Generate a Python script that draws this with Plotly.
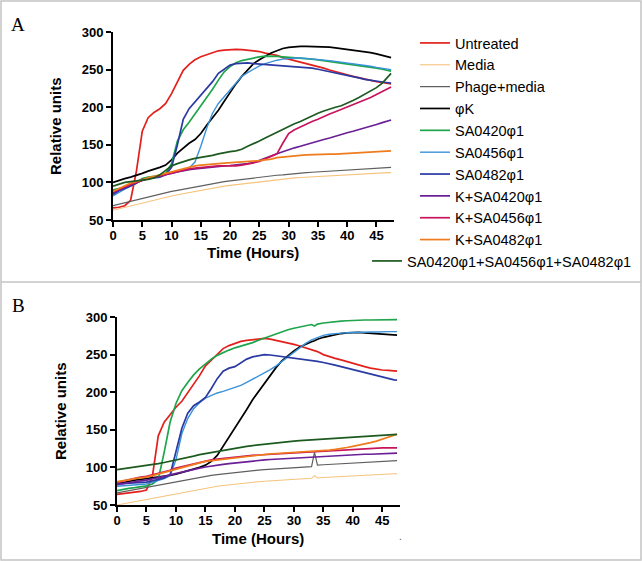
import plotly.graph_objects as go

# sampling times (hours)
HOURS_A = list(range(48)) + [47.5]
HOURS_B = list(range(34)) + [33.5] + list(range(34, 48)) + [47.5]

SERIES = ["Untreated", "Media", "Phage+media", "φK", "SA0420φ1", "SA0456φ1",
          "SA0482φ1", "K+SA0420φ1", "K+SA0456φ1", "K+SA0482φ1",
          "SA0420φ1+SA0456φ1+SA0482φ1"]
COLORS = ["#e3211c", "#f6c37e", "#5f5f5f", "#000000", "#1fa54b", "#3a92da",
          "#2a3aa3", "#6b1f96", "#c8145c", "#f07b1c", "#1c5a1f"]
WIDTHS = [1.7, 1.1, 1.2, 1.7, 1.7, 1.4, 1.7, 1.7, 1.7, 1.7, 1.7]

# panel A
UNTREATED_A = [66, 67, 69, 76, 115, 168, 186, 193, 198, 205, 218, 234, 249, 257, 263, 267, 270, 273, 275, 276,
               277, 277, 276.5, 276, 275, 274, 272, 271, 269, 266, 264, 262, 260, 258, 256.5, 255, 252, 249.5, 247, 245,
               243, 241, 239, 237, 235.5, 234, 233, 231.5, 231]
MEDIA_A = [63, 65, 67, 69, 71, 73, 75, 77, 79, 80.5, 82, 83.5, 85, 86.5, 88, 89.5, 91, 92.5, 94, 95,
           96, 97, 98, 99, 100, 101, 102, 103, 103.5, 104, 105, 106, 106.5, 107, 107.5, 108, 108.5, 109, 109.5, 110,
           110.5, 111, 111, 111.5, 112, 112, 112.5, 113, 113]
PHAGE_A = [69, 71, 73, 75, 77, 79, 81, 83, 85, 86.5, 88, 89.5, 91, 92.5, 94, 95.5, 97, 98.5, 100, 101,
           102, 103, 104, 105, 106, 107, 108, 109, 109.5, 110, 111, 112, 112.5, 113, 113.5, 114, 114.5, 115, 115.5, 116,
           116.5, 117, 117.5, 118, 118.5, 119, 119.5, 120, 120]
PHIK_A = [100, 103, 105, 107, 109, 112, 115, 117, 120, 123, 130, 139, 146, 152, 157, 165, 176, 186, 196, 208,
          220, 231, 241, 250, 258, 263, 268, 272, 275, 278, 279.5, 280.5, 281, 281, 281, 281, 280.5, 280, 279, 278,
          277, 276, 275, 274, 272.5, 271, 269, 267, 266]
SA0420_A = [90, 92, 93, 95, 100, 105, 107, 108, 109, 112, 125, 155, 170, 180, 191, 201, 212, 224, 236, 247,
            254, 259, 262, 264, 266, 267, 268, 268, 267.5, 267, 266.5, 266, 265, 264.5, 264, 263, 262, 261, 260, 259,
            258, 257, 256, 254.5, 253, 252, 250.5, 249, 248]
SA0456_A = [82, 87, 91, 95, 99, 103, 105, 107, 109, 111, 113, 116, 117, 119, 127, 148, 172, 192, 205, 214,
            222, 232, 241, 246, 251, 255, 258, 260.5, 262.5, 264, 265, 265.5, 265.5, 265, 264.5, 264, 263, 262, 261, 260,
            259, 258, 257, 255.5, 254.5, 253, 252, 251, 250]
SA0482_A = [84, 89, 92, 95, 99, 104, 105, 106, 107, 110, 120, 150, 184, 198, 207, 215, 224, 234, 245, 251,
            256, 258, 259, 259, 258, 257.5, 257, 256.5, 256, 255.5, 255, 254.5, 254, 253, 252, 250.5, 249, 247, 245.5, 244,
            242, 240.5, 239, 237, 235.5, 234.5, 233.5, 232.5, 232]
K420_A = [86, 90, 94, 97, 100, 103, 105, 107, 109, 111, 112, 114, 116, 117, 118, 119, 120, 121, 121.5, 122,
          122.5, 123, 124, 125, 126.5, 129, 132, 135, 138, 141, 144, 146, 148, 150, 152, 155, 157, 159, 161, 164,
          166, 168, 170, 172, 174, 177, 179.5, 182, 183]
K456_A = [88, 91, 95, 98, 100, 103, 105, 107, 109, 111, 112, 114, 116, 118, 119, 120, 121, 121, 122, 122,
          121.5, 122, 123, 124, 126, 128, 131, 134, 138, 152, 165, 170, 174, 177, 181, 184, 188, 191, 194, 197,
          200, 203, 206, 209, 213, 217, 221, 225, 227]
K482_A = [88, 92, 96, 99, 101, 104, 106, 108, 110, 112, 115, 117, 119, 121, 122, 123, 124, 124.5, 125, 125.5,
          126, 126.5, 127, 127.5, 128, 129, 130, 131, 133, 134, 135, 135.5, 136, 136.5, 137, 137.5, 137.5, 137.5, 137.5, 138,
          138, 138.5, 139, 139.5, 140, 141, 141.5, 142, 142]
COMBO_A = [95, 98, 100, 101, 102, 103, 104, 106, 110, 116, 122, 125, 128, 130, 132, 133, 134.5, 136, 138, 140,
           141, 142, 144, 148, 151, 155, 159, 163, 167, 171, 175, 178, 181, 185, 189, 192, 195, 198, 200, 202,
           205, 209, 213, 217, 221, 226, 232, 241, 245]

# panel B
UNTREATED_B = [64, 65, 66, 67, 68, 70, 88, 142, 160, 170, 180, 188, 199, 210, 222, 235, 243, 251, 258, 262,
               265, 267.5, 269, 270, 271, 271.5, 270.5, 269, 267.5, 265.5, 263.5, 261.5, 259, 257, 256,
               254, 250, 247, 245, 243, 240.5, 238, 236, 234, 232, 230.5, 229.5, 229, 228.5, 228]
MEDIA_B = [50, 51.5, 53, 54.5, 56, 57.5, 59, 60.5, 62, 63.5, 65, 66.5, 68, 69.5, 71, 72.5, 74, 75, 76, 77,
           78, 79, 80, 80.5, 81, 81.5, 82, 82.5, 83, 83.5, 84, 84.5, 85, 85.5, 89,
           86, 86.5, 87, 87.5, 88, 88.5, 89, 89.5, 90, 90, 90.5, 91, 91, 91.5, 91.5]
PHAGE_B = [66, 67.5, 69, 70.5, 72, 73.5, 75, 76.5, 78, 79.5, 81, 82.5, 84, 85.5, 87, 88.5, 89.5, 90.5, 91.5, 92.5,
           93.5, 94.5, 95.5, 96, 96.5, 97, 97.5, 98, 98.5, 99, 99.5, 100, 100.5, 101, 120,
           103, 103.5, 104, 104.5, 105, 105.5, 106, 106.5, 107, 107.5, 108, 108, 108.5, 109, 109]
PHIK_B = [78, 80, 82, 83, 84, 85, 86, 87, 88, 89.5, 91, 93, 95, 97, 100, 103, 108, 116, 128, 140,
          152, 165, 177, 190, 201, 212, 223, 233, 242, 249, 255, 260, 264, 267, 268.5,
          270.5, 273, 275, 276.5, 278, 279, 279.5, 279.5, 279, 278.5, 278, 277.5, 277, 276.5, 276]
SA0420_B = [69, 70, 72, 73, 74, 75.5, 78, 84, 120, 160, 185, 202, 213, 223, 231, 238, 244, 249, 253, 256,
            259, 261, 263, 266, 269, 272, 275, 278, 280.5, 283, 285, 287, 289, 290, 288,
            290.5, 292, 293, 294, 294.5, 295, 295.5, 295.5, 296, 296, 296, 296.5, 296.5, 296.5, 296.5]
SA0456_B = [75, 75.5, 76, 76.5, 77, 78, 80, 82, 85, 89, 110, 145, 165, 178, 186, 192, 196, 199, 201, 203.5,
            206, 209, 213, 217, 221, 225, 230, 235, 241, 247, 253, 259, 265, 269.5, 271,
            273, 275.5, 277, 278, 278.5, 279, 279.5, 280, 280, 280, 280, 280.5, 280.5, 280.5, 280.5]
SA0482_B = [78, 78.5, 79, 79.5, 80, 80.5, 82, 84, 86, 90, 120, 152, 172, 182, 187, 193, 205, 218, 228, 232,
            234, 239, 244, 247, 249, 250, 249.5, 248.5, 247.5, 246.5, 245.5, 244.5, 243.5, 242.5, 242,
            241, 239.5, 238, 236, 234, 232, 230, 228, 226, 224, 222, 220, 218, 216.5, 216]
K420_B = [77, 78.5, 80, 81, 82, 83, 84.5, 86, 88, 90, 92, 94, 96, 97.5, 99, 100.5, 102, 103, 104, 105,
          106, 107, 108, 108.5, 109, 110, 110.5, 111, 111.5, 112, 112.5, 113, 113.5, 114, 114,
          114, 114.5, 115, 115.5, 116, 116.5, 117, 117, 117.5, 117.5, 118, 118.5, 118.5, 119, 119]
K456_B = [80, 82, 84, 85.5, 87, 88, 90, 92, 94, 96, 99, 101, 103, 105, 107, 108.5, 110, 111, 112, 113,
          114, 115, 115.5, 116, 116.5, 117, 117.5, 118, 118.5, 119, 119.5, 120, 120.5, 121, 121,
          121.5, 122, 122.5, 123, 123.5, 124, 124.5, 125, 125, 125.5, 125.5, 126, 126, 126, 126]
K482_B = [81, 82, 83.5, 85, 86, 87, 89, 91, 93, 95, 98, 100, 102, 104, 106, 108, 109, 110, 111, 112,
          113, 114, 115, 116, 117, 117.5, 118, 118.5, 119, 119.5, 120, 120, 120.5, 121, 121,
          121.5, 122, 123, 124, 125, 126.5, 128, 129.5, 131, 133, 135, 137.5, 140, 142.5, 144]
COMBO_B = [97, 98, 99, 100, 101, 102, 103.5, 105, 106.5, 108, 110, 111.5, 113, 115, 117, 118.5, 120, 121.5, 123, 124.5,
           126, 127, 128, 129, 130, 131, 132, 132.5, 133, 134, 135, 135.5, 136, 137, 137,
           137.5, 138, 138.5, 139, 139.5, 140, 140.5, 141, 141.5, 142, 142.5, 143, 143.5, 144, 144]

PANEL_A = [UNTREATED_A, MEDIA_A, PHAGE_A, PHIK_A, SA0420_A, SA0456_A, SA0482_A, K420_A, K456_A, K482_A, COMBO_A]
PANEL_B = [UNTREATED_B, MEDIA_B, PHAGE_B, PHIK_B, SA0420_B, SA0456_B, SA0482_B, K420_B, K456_B, K482_B, COMBO_B]

W, H = 642, 561
SANS = "Arial, Liberation Sans, sans-serif"
SERIF = "Liberation Serif, Times New Roman, serif"

fig = go.Figure()
for i, name in enumerate(SERIES):
    fig.add_trace(go.Scatter(
        x=HOURS_A, y=PANEL_A[i], name=name, mode="lines",
        line=dict(color=COLORS[i], width=WIDTHS[i]),
        xaxis="x", yaxis="y",
        legend="legend2" if i == len(SERIES) - 1 else "legend",
    ))
for i, name in enumerate(SERIES):
    fig.add_trace(go.Scatter(
        x=HOURS_B, y=PANEL_B[i], name=name, mode="lines",
        line=dict(color=COLORS[i], width=WIDTHS[i]),
        xaxis="x2", yaxis="y2", showlegend=False,
    ))


def px_x(p):
    return p / W


def px_y(p):
    return (H - p) / H


def label(text, x, y, font, angle=0):
    return dict(text=text, x=px_x(x), y=px_y(y), xref="paper", yref="paper", showarrow=False,
                xanchor="center", yanchor="middle", textangle=angle, font=font)


axis_style = dict(
    showline=True, linecolor="black", linewidth=2, mirror=False,
    ticks="outside", ticklen=5, tickwidth=2, tickcolor="black",
    showgrid=False, zeroline=False, automargin=False,
    tickfont=dict(family=SANS, size=13, color="black", weight="bold"),
)
title_font = dict(family=SANS, size=15, color="black", weight="bold")
panel_font = dict(family=SERIF, size=19, color="black")

fig.update_layout(
    template="none",
    width=W, height=H,
    margin=dict(l=0, r=0, t=0, b=0),
    paper_bgcolor="white", plot_bgcolor="rgba(0,0,0,0)",
    xaxis=dict(axis_style, domain=[px_x(113), px_x(394)], range=[0, 48], tick0=0, dtick=5, anchor="y",
               ticklabelstandoff=-3),
    yaxis=dict(axis_style, domain=[px_y(220), px_y(32)], range=[50, 300], tick0=50, dtick=50, anchor="x"),
    xaxis2=dict(axis_style, domain=[px_x(117), px_x(400)], range=[0, 48], tick0=0, dtick=5, anchor="y2",
                ticklabelstandoff=-3),
    yaxis2=dict(axis_style, domain=[px_y(505), px_y(317)], range=[50, 300], tick0=50, dtick=50, anchor="x2"),
    legend=dict(x=px_x(415), y=px_y(27), xanchor="left", yanchor="top",
                font=dict(family=SANS, size=14.5, color="black"),
                bgcolor="rgba(0,0,0,0)", borderwidth=0, tracegroupgap=0),
    legend2=dict(x=px_x(367), y=px_y(245), xanchor="left", yanchor="top",
                 font=dict(family=SANS, size=14.5, color="black"),
                 bgcolor="rgba(0,0,0,0)", borderwidth=0),
    showlegend=True,
    shapes=[
        dict(type="rect", xref="paper", yref="paper", x0=px_x(1), x1=px_x(641), y0=px_y(560), y1=px_y(1),
             line=dict(color="#c4c4c4", width=1.5)),
        dict(type="line", xref="paper", yref="paper", x0=px_x(1), x1=px_x(641), y0=px_y(282), y1=px_y(282),
             line=dict(color="#c4c4c4", width=1.5)),
    ],
    annotations=[
        label("A", 18, 25, panel_font),
        label("B", 18, 305, panel_font),
        label("Time (Hours)", 253, 252, title_font),
        label("Relative units", 55, 126, title_font, -90),
        label("Time (Hours)", 258, 538, title_font),
        label("Relative units", 60, 411, title_font, -90),
        label(".", 400, 536, dict(family=SANS, size=10, color="#555")),
    ],
)

fig.write_html("out.html", post_script="document.body.style.margin='0';",
               config={"displayModeBar": False})
